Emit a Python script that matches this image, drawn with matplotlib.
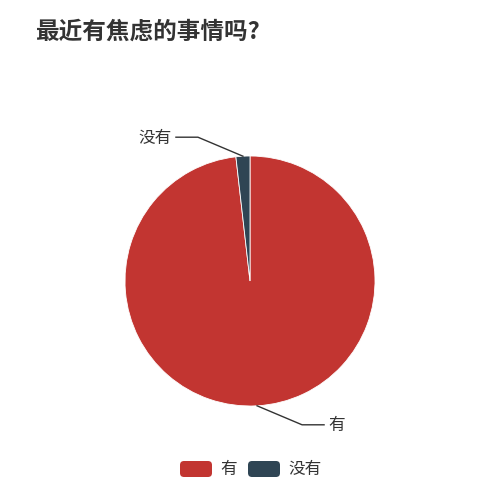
import numpy as np
import matplotlib
matplotlib.use("Agg")
import matplotlib.pyplot as plt
from matplotlib.patches import FancyBboxPatch

plt.rcParams['font.family'] = ['Noto Sans CJK SC', 'DejaVu Sans']

title = "最近有焦虑的事情吗?"
labels = ["有", "没有"]
values = [98.2, 1.8]
colors = ["#c23531", "#2f4554"]

W, H = 500, 502
fig = plt.figure(figsize=(W / 100, H / 100), dpi=100)
ax = fig.add_axes([0, 0, 1, 1])

# pixel coords, y going up
cx, cy, r = 250, H - 282, 125
wedges, _ = ax.pie(values, colors=colors, startangle=90, counterclock=False,
                   center=(cx, cy), radius=r, frame=True,
                   wedgeprops=dict(linewidth=0.6, edgecolor="white"))
ax.set_xlim(0, W)
ax.set_ylim(0, H)
ax.set_aspect("equal")
ax.axis("off")

# label lines from the middle of each slice
for w, lab in zip(wedges, labels):
    mid = np.deg2rad((w.theta1 + w.theta2) / 2)
    x0, y0 = cx + r * np.cos(mid), cy + r * np.sin(mid)
    sx = 1 if np.cos(mid) >= 0 else -1
    sy = 1 if np.sin(mid) >= 0 else -1
    x1, y1 = x0 + sx * 45, y0 + sy * 19
    x2 = x1 + sx * 22
    ax.plot([x0, x1, x2], [y0, y1, y1], color="#333333", lw=1)
    ax.text(x2 + sx * 4, y1, lab, ha="left" if sx > 0 else "right", va="center",
            fontsize=12, color="#333333")

ax.text(35, H - 32, title, fontsize=17, fontweight="bold", color="#333333",
        ha="left", va="center")

# legend
lx, ly = 180, H - 470
for lab, c in zip(labels, colors):
    ax.add_patch(FancyBboxPatch((lx, ly - 8), 32, 16, boxstyle="round,pad=0,rounding_size=4",
                                facecolor=c, edgecolor="none"))
    ax.text(lx + 40, ly, lab, fontsize=12, color="#333333", ha="left", va="center")
    lx += 40 + 16 * len(lab) + 12

fig.savefig("out.png", dpi=100, facecolor="white")
